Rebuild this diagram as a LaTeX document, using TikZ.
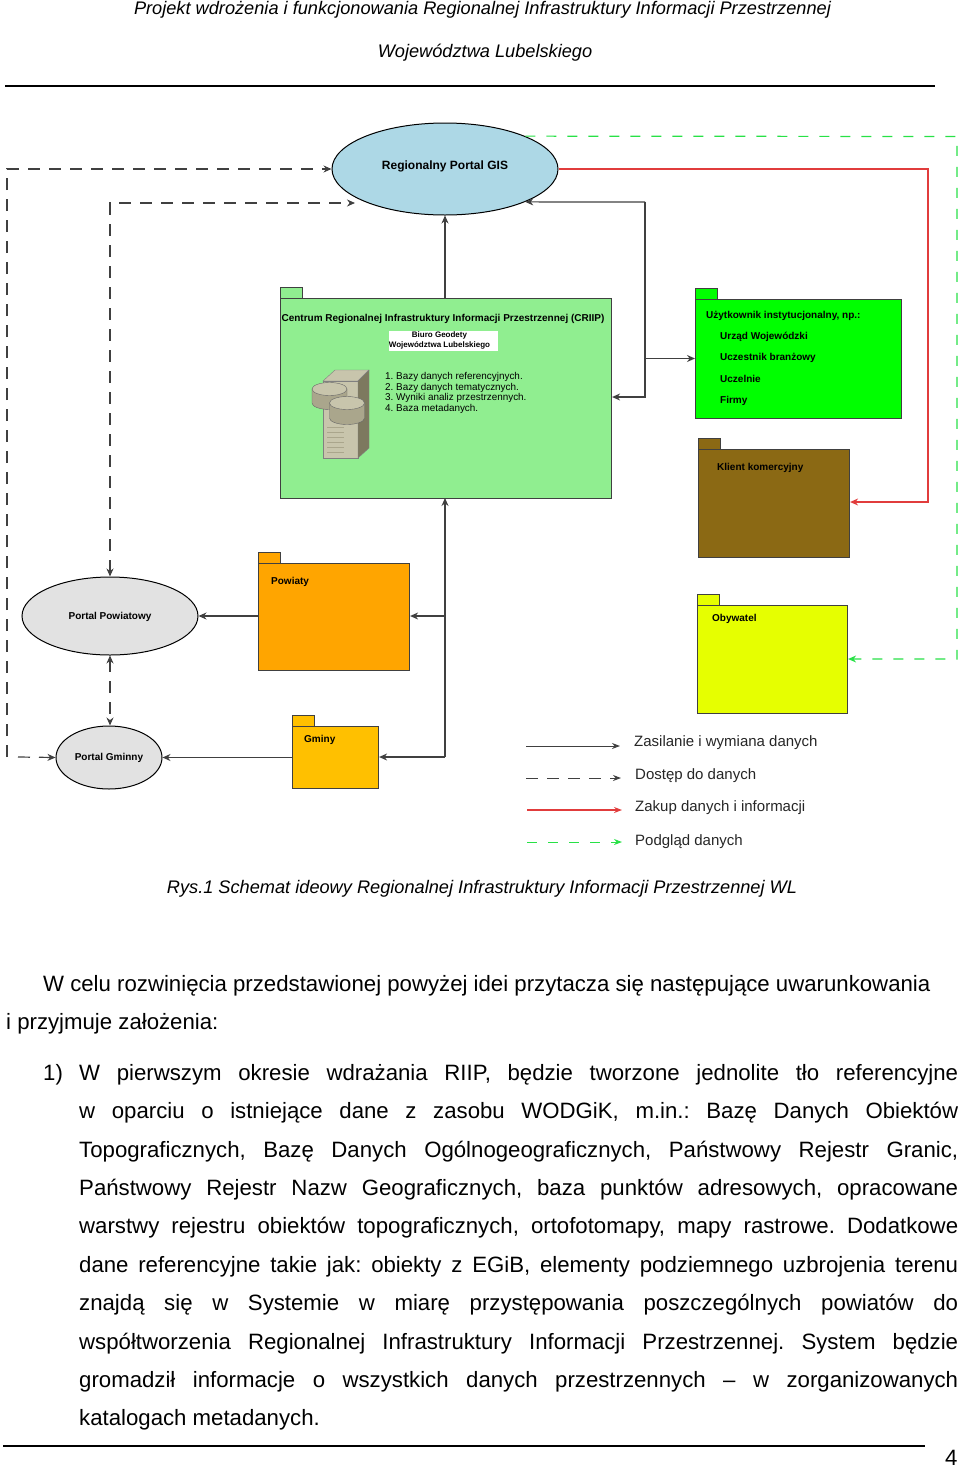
\documentclass[tikz,border=0pt]{standalone}
\usepackage{fontspec}
\setmainfont{Liberation Sans}
\usetikzlibrary{arrows.meta,shapes.geometric}
\frenchspacing
\definecolor{gisblue}{RGB}{173,216,230}
\definecolor{criipgreen}{RGB}{144,238,144}
\definecolor{usergreen}{RGB}{0,255,0}
\definecolor{firmbrown}{RGB}{139,105,20}
\definecolor{powiatorange}{RGB}{255,165,0}
\definecolor{gminagold}{RGB}{255,192,0}
\definecolor{citizenyellow}{RGB}{230,255,0}
\definecolor{portalgrey}{RGB}{226,226,226}
\definecolor{viewgreen}{RGB}{40,225,70}
\definecolor{buyred}{RGB}{225,60,60}
\definecolor{srvlight}{RGB}{200,197,172}
\definecolor{srvdark}{RGB}{125,121,95}
\definecolor{srvmid}{RGB}{170,166,140}
\tikzset{
  pkg/.style={draw=black!75, line width=1.1pt, inner sep=0pt, anchor=north west},
  portal/.style={ellipse, draw=black, line width=1pt, inner sep=0pt},
  feed/.style={draw=black!75, line width=1.2pt, -{Stealth[length=8pt,width=7pt]}},
  access/.style={feed, dash pattern=on 12pt off 9pt},
  buy/.style={feed, draw=buyred, line width=1.2pt},
  view/.style={feed, draw=viewgreen, dash pattern=on 10pt off 11pt},
  pkglabel/.style={font=\fontsize{10}{12}\selectfont\bfseries, inner sep=0pt, anchor=base west},
  legendlabel/.style={font=\fontsize{15}{18}\selectfont, inner sep=0pt, anchor=base west, text=black!85},
  bodyline/.style={font=\fontsize{22.2}{26}\selectfont, inner sep=0pt, anchor=base west},
}
\newcommand{\fullline}[1]{\makebox[879pt][s]{#1}}
\begin{document}
\begin{tikzpicture}[x=1pt,y=-1pt]
\useasboundingbox (0,0) rectangle (960,1468);

% page head
\node[font=\fontsize{18.2}{21}\selectfont\itshape, inner sep=0pt, anchor=base] (head1) at (482.5,14){Projekt wdrożenia i funkcjonowania Regionalnej Infrastruktury Informacji Przestrzennej};
\node[font=\fontsize{18.2}{21}\selectfont\itshape, inner sep=0pt, anchor=base] (head2) at (485,57){Województwa Lubelskiego};
\coordinate (headl) at (5,86);
\coordinate (headr) at (935,86);
\draw[line width=1.2pt](headl) -- (headr);

% portals
\node[portal, fill=gisblue, minimum width=226pt, minimum height=92pt] (gis) at (445,169){};
\node[font=\fontsize{12}{14}\selectfont\bfseries, inner sep=0pt, anchor=base] (gistxt) at (445,169.5){Regionalny Portal GIS};
\node[portal, fill=portalgrey, minimum width=176pt, minimum height=78pt] (powportal) at (110,616){};
\node[font=\fontsize{10}{12}\selectfont\bfseries, inner sep=0pt] (powtxt) at (110,616.5){Portal Powiatowy};
\node[portal, fill=portalgrey, minimum width=106pt, minimum height=63pt] (gmiportal) at (109,757.5){};
\node[font=\fontsize{10}{12}\selectfont\bfseries, inner sep=0pt] (gmitxt) at (109,757.5){Portal Gminny};

% packages
\node[pkg, fill=criipgreen, minimum width=22pt, minimum height=11pt] (criiptab) at (280,287){};
\node[pkg, fill=criipgreen, minimum width=331pt, minimum height=200pt] (criip) at (280,298){};
\node[pkg, fill=usergreen, minimum width=22pt, minimum height=11pt] (usertab) at (695,288){};
\node[pkg, fill=usergreen, minimum width=206pt, minimum height=119pt] (user) at (695,299){};
\node[pkg, fill=firmbrown, minimum width=22pt, minimum height=11pt] (firmtab) at (698,438){};
\node[pkg, fill=firmbrown, minimum width=151pt, minimum height=108pt] (firm) at (698,449){};
\node[pkg, fill=powiatorange, minimum width=22pt, minimum height=11pt] (powtab) at (258,552){};
\node[pkg, fill=powiatorange, minimum width=151pt, minimum height=107pt] (pow) at (258,563){};
\node[pkg, fill=gminagold, minimum width=22pt, minimum height=11pt] (gmitab) at (292,715){};
\node[pkg, fill=gminagold, minimum width=86pt, minimum height=62pt] (gmi) at (292,726){};
\node[pkg, fill=citizenyellow, minimum width=22pt, minimum height=11pt] (citizentab) at (697,594){};
\node[pkg, fill=citizenyellow, minimum width=150pt, minimum height=108pt] (citizen) at (697,605){};

% texts in packages
\node[font=\fontsize{10}{12}\selectfont\bfseries, inner sep=0pt, anchor=base] (criiptxt) at (443,321){Centrum Regionalnej Infrastruktury Informacji Przestrzennej (CRIIP)};
\node[fill=white, minimum width=109pt, minimum height=20pt, inner sep=0pt] (biuro) at (443.5,341){};
\node[inner sep=0pt, align=center, font=\fontsize{8}{10.2}\selectfont\bfseries] (biurotxt) at (439.5,340.5){Biuro Geodety\\Województwa Lubelskiego};
\node[font=\fontsize{9.9}{10.7}\selectfont, inner sep=0pt, align=left, anchor=north west] (bazy) at (385,372){1. Bazy danych referencyjnych.\\2. Bazy danych tematycznych.\\3. Wyniki analiz przestrzennych.\\4. Baza metadanych.};
\node[pkglabel] (usertxt) at (706,318){Użytkownik instytucjonalny, np.:};
\node[pkglabel] (urzad) at (720,339){Urząd Wojewódzki};
\node[pkglabel] (branza) at (720,360.5){Uczestnik branżowy};
\node[pkglabel] (uczelnie) at (720,382){Uczelnie};
\node[pkglabel] (firmy) at (720,403){Firmy};
\node[pkglabel] (firmtxt) at (717,470){Klient komercyjny};
\node[pkglabel] (powpkgtxt) at (271,584){Powiaty};
\node[pkglabel] (gmipkgtxt) at (304,742){Gminy};
\node[pkglabel] (citizentxt) at (712,621){Obywatel};

% server
\fill[srvlight, draw=black!50, line width=.4pt] (323,381) -- (335,370) -- (369,370) -- (358,381) -- cycle;
\fill[srvlight, draw=black!50, line width=.4pt] (323,381) rectangle (358,458);
\fill[srvdark, draw=black!50, line width=.4pt] (358,381) -- (369,370) -- (369,448) -- (358,458) -- cycle;
\foreach \sloty in {427,432,437,442,447,452}
  \draw[srvmid, line width=.7pt] (327,\sloty) -- (344,\sloty);
\fill[srvmid, draw=black!60, line width=.4pt] (312,389) -- (312,403) arc[start angle=180, end angle=360, x radius=17.5pt, y radius=6.5pt] -- (347,389) -- cycle;
\fill[srvlight, draw=black!60, line width=.4pt] (329.5,389) ellipse[x radius=17.5pt, y radius=6.5pt];
\fill[srvmid, draw=black!60, line width=.4pt] (329.5,403) -- (329.5,418) arc[start angle=180, end angle=360, x radius=17.5pt, y radius=6.5pt] -- (364.5,403) -- cycle;
\fill[srvlight, draw=black!60, line width=.4pt] (347,403) ellipse[x radius=17.5pt, y radius=6.5pt];

% zasilanie
\coordinate (stemtop) at (445,298);
\coordinate (stembot) at (445,498);
\coordinate (stemgmi) at (445,757);
\coordinate (stempow) at (445,616);
\draw[feed](stemtop) -- (gis.south);
\draw[feed](stemgmi) -- (stembot);
\draw[feed](stemgmi) -- (gmi.east |- stemgmi);
\draw[feed](stempow) -- (pow.east |- stempow);
\draw[feed](pow.west |- stempow) -- (powportal.east);
\draw[feed](gmi.west |- gmiportal) -- (gmiportal.east);
\coordinate (busgis) at (645,202);
\coordinate (buscriip) at (645,397);
\coordinate (bususer) at (645,358.5);
\draw[feed](busgis) -- (gis.south east);
\draw[feed](busgis) -- (buscriip) -- (criip.east |- buscriip);
\draw[feed](bususer) -- (user.west |- bususer);

% dostep
\coordinate (leftcorner) at (7,169);
\coordinate (leftfoot) at (7,757);
\coordinate (midcorner) at (110,203);
\coordinate (midend) at (355,203);
\coordinate (footstart) at (18,757);
\draw[access](footstart) -- (gmiportal.west);
\draw[access](leftfoot) -- (leftcorner) -- (gis.west);
\draw[access, {Stealth[length=8pt,width=7pt]}-{Stealth[length=8pt,width=7pt]}](powportal.north) -- (midcorner) -- (midend);
\draw[access, {Stealth[length=8pt,width=7pt]}-{Stealth[length=8pt,width=7pt]}](powportal.south) -- (gmiportal.north -| powportal.south);

% zakup, podglad
\coordinate (redcorner1) at (928,169);
\coordinate (redcorner2) at (928,502);
\draw[buy](gis.east) -- (redcorner1) -- (redcorner2) -- (firm.east |- redcorner2);
\coordinate (greencorner1) at (957,136.5);
\coordinate (greencorner2) at (957,659);
\draw[view](gis.north east) -- (greencorner1) -- (greencorner2) -- (citizen.east |- greencorner2);

% legend
\coordinate (leg1a) at (526,746); \coordinate (leg1b) at (620,746);
\coordinate (leg2a) at (526,778); \coordinate (leg2b) at (621,778);
\coordinate (leg3a) at (527,810); \coordinate (leg3b) at (622,810);
\coordinate (leg4a) at (527,842); \coordinate (leg4b) at (622,842);
\draw[feed, line width=1pt, {-Stealth[length=8pt,width=6pt]}](leg1a) -- (leg1b);
\draw[access, line width=1pt, {-Stealth[length=8pt,width=6pt]}](leg2a) -- (leg2b);
\draw[buy, {-Stealth[length=8pt,width=6pt]}](leg3a) -- (leg3b);
\draw[view, line width=1pt, {-Stealth[length=8pt,width=6pt]}](leg4a) -- (leg4b);
\node[legendlabel] (legtxt1) at (634,746){Zasilanie i wymiana danych};
\node[legendlabel] (legtxt2) at (635,779){Dostęp do danych};
\node[legendlabel] (legtxt3) at (635,811){Zakup danych i informacji};
\node[legendlabel] (legtxt4) at (635,845){Podgląd danych};

% caption and body text
\node[font=\fontsize{18.2}{21}\selectfont\itshape, inner sep=0pt, anchor=base] (caption) at (482,893){Rys.1 Schemat ideowy Regionalnej Infrastruktury Informacji Przestrzennej WL};
\node[bodyline] (intro1) at (43,991.5){W celu rozwinięcia przedstawionej powyżej idei przytacza się następujące uwarunkowania};
\node[bodyline] (intro2) at (6,1029.5){i przyjmuje założenia:};
\node[bodyline] (enum) at (43,1080.5){1)};
\node[bodyline] (line1) at (79,1080.5){\fullline{W pierwszym okresie wdrażania RIIP, będzie tworzone jednolite tło referencyjne}};
\node[bodyline] (line2) at (79,1118.5){\fullline{w oparciu o istniejące dane z zasobu WODGiK, m.in.: Bazę Danych Obiektów}};
\node[bodyline] (line3) at (79,1157.5){\fullline{Topograficznych, Bazę Danych Ogólnogeograficznych, Państwowy Rejestr Granic,}};
\node[bodyline] (line4) at (79,1195.5){\fullline{Państwowy Rejestr Nazw Geograficznych, baza punktów adresowych, opracowane}};
\node[bodyline] (line5) at (79,1233.5){\fullline{warstwy rejestru obiektów topograficznych, ortofotomapy, mapy rastrowe. Dodatkowe}};
\node[bodyline] (line6) at (79,1272.5){\fullline{dane referencyjne takie jak: obiekty z EGiB, elementy podziemnego uzbrojenia terenu}};
\node[bodyline] (line7) at (79,1310.5){\fullline{znajdą się w Systemie w miarę przystępowania poszczególnych powiatów do}};
\node[bodyline] (line8) at (79,1349.5){\fullline{współtworzenia Regionalnej Infrastruktury Informacji Przestrzennej. System będzie}};
\node[bodyline] (line9) at (79,1387.5){\fullline{gromadził informacje o wszystkich danych przestrzennych – w zorganizowanych}};
\node[bodyline] (line10) at (79,1425.5){katalogach metadanych.};

% page foot
\coordinate (footl) at (3,1446);
\coordinate (footr) at (925,1446);
\draw[line width=1.2pt](footl) -- (footr);
\node[bodyline] (pageno) at (945,1465){4};
\end{tikzpicture}
\end{document}
